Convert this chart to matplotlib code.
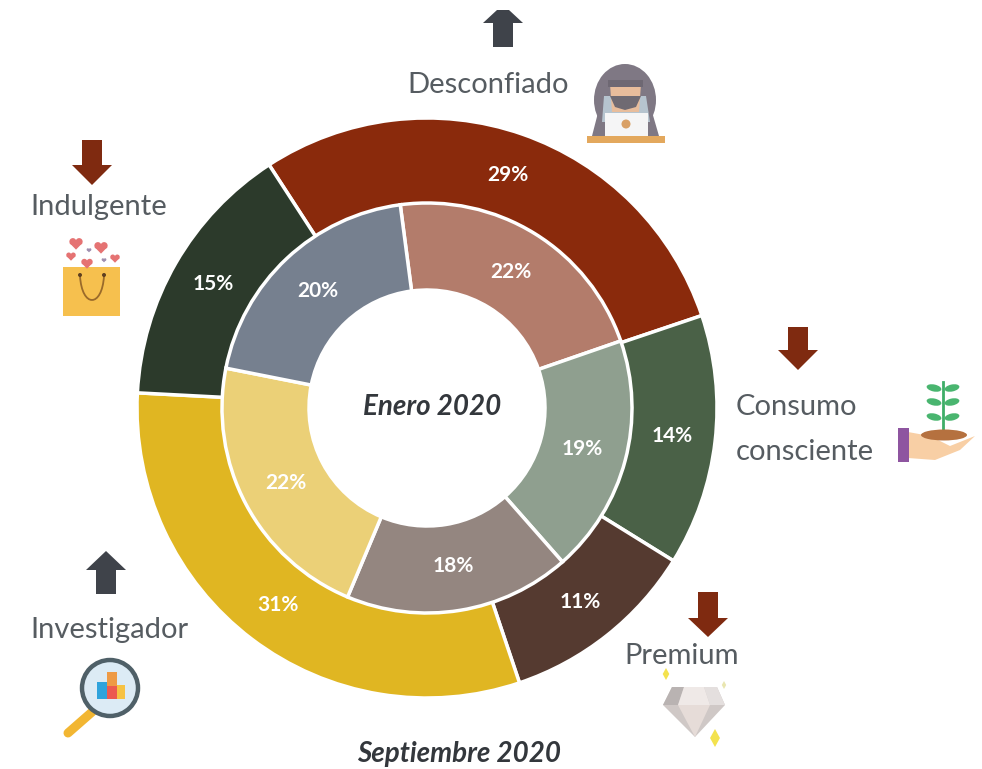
import matplotlib
matplotlib.use('Agg')
import matplotlib.pyplot as plt
from matplotlib.patches import Polygon, Circle, Ellipse, Rectangle, PathPatch
from matplotlib.path import Path
import numpy as np

W, H = 982, 769

segments = ['Desconfiado', 'Consumo consciente', 'Premium', 'Investigador', 'Indulgente']
sep_2020 = [29, 14, 11, 31, 15]
ene_2020 = [22, 19, 18, 22, 20]
outer_colors = ['#8a2a0c', '#4a6147', '#553a30', '#e0b622', '#2c3a2b']
inner_colors = ['#b37c6b', '#8f9f8f', '#948680', '#ebd077', '#76808f']

plt.rcParams['font.family'] = ['Lato', 'Carlito', 'Open Sans', 'DejaVu Sans']
TXT = '#565c61'
UP = '#3f434a'
DOWN = '#7f2a10'

fig = plt.figure(figsize=(W / 100, H / 100), dpi=100)
ax = fig.add_axes([0, 0, 1, 1])


def Y(y):
    return H - y


def poly(pts, color, z=5, **kw):
    ax.add_patch(Polygon([(x, Y(y)) for x, y in pts], closed=True, fc=color, ec='none', zorder=z, **kw))


def rect(x0, y0, x1, y1, color, z=5):
    ax.add_patch(Rectangle((x0, Y(y1)), x1 - x0, y1 - y0, fc=color, ec='none', zorder=z))


def ell(x, y, w, h, color, z=5, angle=0):
    ax.add_patch(Ellipse((x, Y(y)), w, h, angle=angle, fc=color, ec='none', zorder=z))


def arrow_down(cx, top, neck, tip, color=DOWN):
    poly([(cx - 10, top), (cx + 10, top), (cx + 10, neck), (cx + 20, neck), (cx, tip), (cx - 20, neck), (cx - 10, neck)], color)


def arrow_up(cx, tip, neck, bottom, color=UP, cut=0):
    poly([(cx - cut, tip), (cx + cut, tip), (cx + 20, neck), (cx + 10, neck), (cx + 10, bottom),
          (cx - 10, bottom), (cx - 10, neck), (cx - 20, neck)], color)


def heart(cx, cy, s, color='#e57373'):
    ell(cx - s * 0.45, cy - s * 0.2, s, s, color, 6)
    ell(cx + s * 0.45, cy - s * 0.2, s, s, color, 6)
    poly([(cx - s * 0.93, cy), (cx + s * 0.93, cy), (cx, cy + s * 0.95)], color, 6)


def sparkle(cx, cy, s, color='#f3e24e'):
    poly([(cx, cy - s), (cx + s * 0.55, cy), (cx, cy + s), (cx - s * 0.55, cy)], color)


# rings, same centre, inner one on top
cx, cy = 427, Y(408)
w_out, _ = ax.pie(sep_2020, radius=290, center=(cx, cy), startangle=123, counterclock=False,
                  colors=outer_colors, wedgeprops=dict(width=90, edgecolor='white', linewidth=2.5))
w_in, _ = ax.pie(ene_2020, radius=205, center=(cx, cy), startangle=97.5, counterclock=False,
                 colors=inner_colors, wedgeprops=dict(width=87, edgecolor='white', linewidth=2.5))

for wedges, values, r in [(w_out, sep_2020, 247), (w_in, ene_2020, 160)]:
    for wd, v in zip(wedges, values):
        a = np.deg2rad((wd.theta1 + wd.theta2) / 2)
        ax.text(cx + r * np.cos(a), cy + r * np.sin(a), '{}%'.format(v), color='white', fontsize=15,
                fontweight='bold', ha='center', va='center', zorder=8)

ax.text(432, Y(407), 'Enero 2020', fontsize=20, fontweight='bold', style='italic', color='#33373c',
        ha='center', va='center')
ax.text(459, Y(754), 'Septiembre 2020', fontsize=20, fontweight='bold', style='italic', color='#33373c',
        ha='center', va='center')

# segment names
ax.text(407, Y(85), 'Desconfiado', fontsize=21, color=TXT, ha='left', va='center')
ax.text(30, Y(207), 'Indulgente', fontsize=21, color=TXT, ha='left', va='center')
ax.text(736, Y(407), 'Consumo', fontsize=21, color=TXT, ha='left', va='center')
ax.text(736, Y(452), 'consciente', fontsize=21, color=TXT, ha='left', va='center')
ax.text(624, Y(656), 'Premium', fontsize=21, color=TXT, ha='left', va='center', zorder=9)
ax.text(30, Y(630), 'Investigador', fontsize=21, color=TXT, ha='left', va='center')

# trend arrows
arrow_up(503, 10, 23, 47, cut=6)
arrow_down(92, 140, 165, 185)
arrow_down(798, 327, 350, 370)
arrow_down(708, 592, 618, 637)
arrow_up(106, 551, 570, 594)

# hacker icon
ell(625, 100, 62, 72, '#7f7884')
poly([(592, 136), (600, 105), (650, 105), (659, 136)], '#7f7884')
poly([(604, 96), (646, 96), (650, 122), (602, 122)], '#b6c4cf', 6)
poly([(610, 84), (641, 84), (639, 112), (612, 112)], '#e8bd9c', 7)
rect(608, 80, 643, 87, '#6e6873', 8)
poly([(610, 96), (641, 96), (636, 107), (625, 110), (615, 107)], '#6f6a72', 8)
rect(605, 113, 648, 136, '#f5f5f6', 9)
ell(626, 124, 9, 9, '#d9a066', 10)
rect(587, 136, 665, 143, '#e3a85d', 9)

# shopping bag icon
rect(63, 267, 120, 316, '#f6c04e')
verts = [(80, Y(276)), (82, Y(308)), (102, Y(308)), (104, Y(276))]
ax.add_patch(PathPatch(Path([(x, y) for x, y in verts], [Path.MOVETO, Path.CURVE4, Path.CURVE4, Path.CURVE4]),
                       fc='none', ec='#9a6a2a', lw=1.3, zorder=6))
ell(80, 275, 4, 4, '#5f4020', 7)
ell(104, 275, 4, 4, '#5f4020', 7)
heart(76, 243, 7)
heart(101, 247, 7)
heart(71, 256, 5)
heart(87, 263, 6)
heart(115, 258, 5)
heart(89, 250, 2.5, '#9f8fb0')
heart(104, 260, 2.5, '#9f8fb0')

# plant in hand icon
ax.plot([943, 943], [Y(382), Y(434)], color='#3fae68', lw=2, zorder=6)
for ly in [388, 402, 417]:
    ell(934, ly, 15, 7, '#49b56f', 6, angle=-12)
    ell(952, ly, 15, 7, '#49b56f', 6, angle=12)
poly([(908, 432), (930, 436), (950, 446), (975, 436), (960, 450), (935, 460), (908, 458)], '#f8cfa5')
ell(944, 435, 46, 11, '#b5713f', 6)
rect(898, 428, 909, 462, '#8e55a0', 7)

# diamond icon
poly([(672, 687), (717, 687), (725, 705), (695, 737), (663, 705)], '#cfc8c6')
poly([(672, 687), (684, 687), (678, 705), (663, 705)], '#b9b3b2', 6)
poly([(704, 687), (717, 687), (725, 705), (710, 705)], '#e4dfde', 6)
poly([(684, 687), (704, 687), (710, 705), (678, 705)], '#efe9e7', 6)
poly([(678, 705), (710, 705), (695, 737)], '#e6dcd8', 6)
sparkle(666, 674, 6)
sparkle(724, 685, 4, '#e9e6b0')
sparkle(715, 738, 9)

# magnifier icon
ax.plot([92, 68], [Y(712), Y(733)], color='#f2b632', lw=6.5, solid_capstyle='round', zorder=5)
ax.add_patch(Circle((110, Y(688)), 28, fc='#dcebf5', ec='#4f6068', lw=3.2, zorder=6))
rect(97, 682, 107, 699, '#2fa3dc', 7)
rect(107, 672, 117, 686, '#ee9a45', 7)
rect(107, 686, 117, 699, '#ec5a50', 7)
rect(117, 685, 125, 699, '#f6c243', 7)

ax.set_xlim(0, W)
ax.set_ylim(0, H)
ax.set_aspect('auto')
ax.axis('off')

fig.savefig('out.png', dpi=100, facecolor='white')
